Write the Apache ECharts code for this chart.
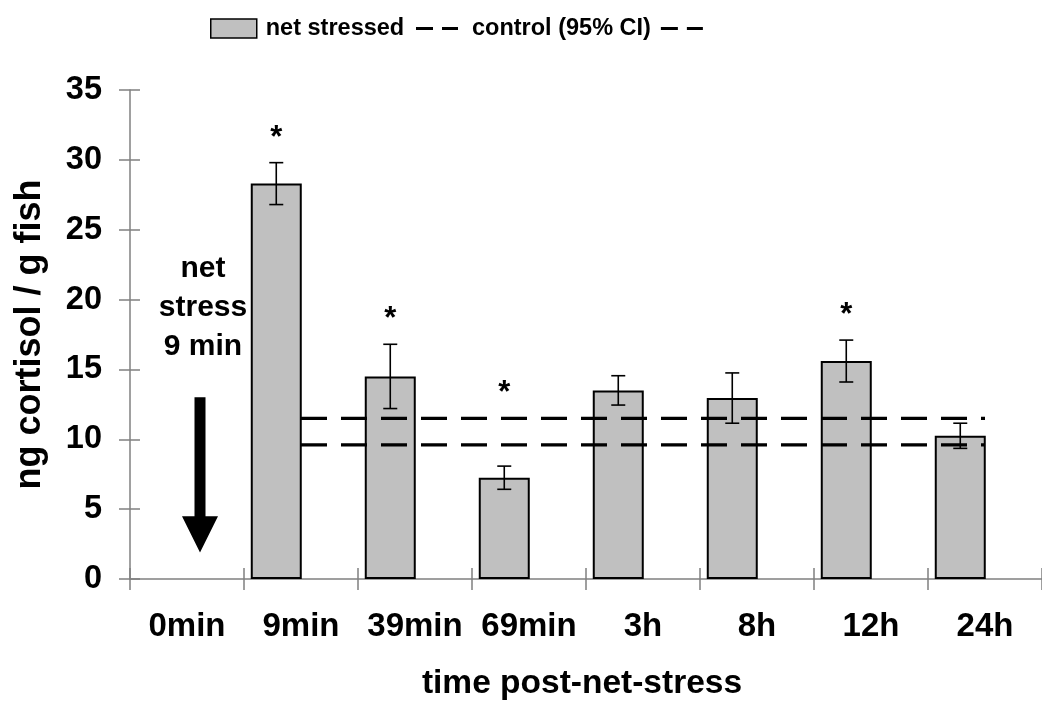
<!DOCTYPE html>
<html>
<head>
<meta charset="utf-8">
<script src="https://cdn.jsdelivr.net/npm/echarts@6/dist/echarts.min.js"></script>
<style>
  html, body { margin: 0; padding: 0; background: #fff; }
  #chart { width: 1042px; height: 706px; }
</style>
</head>
<body>
<div id="chart"></div>
<script>
// Sampling times after the net stress
const categories = ['0min', '9min', '39min', '69min', '3h', '8h', '12h', '24h'];
// Mean whole-body cortisol (ng / g fish) of net-stressed fish
const meanCortisol = [null, 28.3, 14.5, 7.25, 13.5, 12.95, 15.6, 10.25];
// Standard error of each mean
const semCortisol = [null, 1.5, 2.3, 0.83, 1.05, 1.8, 1.5, 0.9];
// Control 95% confidence interval (lower, upper)
const controlLower = 9.6;
const controlUpper = 11.5;
// Times that differ significantly from control
const significant = ['9min', '39min', '69min', '12h'];
// Value axis
const yMin = 0, yMax = 35, yInterval = 5;

const FONT = "'Liberation Sans', Arial, sans-serif";
const BAR_W = 51;
const BAR_GAP = -0.03;
const BAR_SHIFT = BAR_W * (1 + BAR_GAP) / 2;   // bar centre sits left of the category centre

const barData = meanCortisol.map(v => (v == null ? '-' : v));
const errData = [];
meanCortisol.forEach((m, i) => { if (m != null) errData.push([i, m, semCortisol[i]]); });
const starData = significant.map(c => {
  const i = categories.indexOf(c);
  return [i, Math.max(meanCortisol[i] + semCortisol[i], controlUpper) + 1.75];
});
const upperLine = categories.map((c, i) => (i === 0 ? '-' : controlUpper));
const lowerLine = categories.map((c, i) => (i === 0 ? '-' : controlLower));

const chart = echarts.init(document.getElementById('chart'), null, { renderer: 'canvas' });

const axisGray = '#808080';
const legendText = { fontFamily: FONT, fontWeight: 'bold', fontSize: 23.5, color: '#000' };

const option = {
  animation: false,
  backgroundColor: '#fff',
  grid: { left: 130, top: 90, width: 922, height: 490, containLabel: false },
  legend: [
    {
      data: ['net stressed'],
      left: 210, top: 14,
      padding: 0,
      itemWidth: 46, itemHeight: 19,
      icon: 'rect',
      selectedMode: false,
      itemStyle: { borderColor: '#000', borderWidth: 1.5 },
      textStyle: Object.assign({ padding: [0, 0, 0, 4], lineHeight: 29 }, legendText)
    },
    {
      data: ['control (95% CI)', ' '],
      left: 416, top: 14,
      padding: 0,
      itemWidth: 42, itemHeight: 3,
      itemGap: 10,
      icon: 'path://M0,0h17v3h-17zM26,0h16v3h-16z',
      selectedMode: false,
      itemStyle: { color: '#000', borderWidth: 0 },
      textStyle: Object.assign({ padding: [0, 0, 0, 9], lineHeight: 29 }, legendText)
    }
  ],
  xAxis: [
    {
      type: 'category',
      data: categories,
      boundaryGap: true,
      name: 'time post-net-stress',
      nameLocation: 'middle',
      nameGap: 88,
      nameTextStyle: { fontFamily: FONT, fontWeight: 'bold', fontSize: 33.5, color: '#000', padding: [0, 8, 0, 0] },
      axisLine: { lineStyle: { color: axisGray, width: 1.5 } },
      axisTick: { show: true, inside: false, length: 11, lineStyle: { color: axisGray, width: 1.5 } },
      axisLabel: { interval: 0, margin: 31, fontFamily: FONT, fontWeight: 'bold', fontSize: 33, color: '#000' },
      splitLine: { show: false }
    },
    {
      type: 'category',
      data: categories,
      boundaryGap: true,
      position: 'bottom',
      axisLine: { show: false },
      axisTick: { show: true, inside: true, length: 11, lineStyle: { color: axisGray, width: 1.5 } },
      axisLabel: { show: false },
      splitLine: { show: false }
    }
  ],
  yAxis: [
    {
      type: 'value',
      min: yMin, max: yMax, interval: yInterval,
      name: 'ng cortisol / g fish',
      nameLocation: 'middle',
      nameGap: 82,
      nameTextStyle: { fontFamily: FONT, fontWeight: 'bold', fontSize: 36, color: '#000' },
      axisLine: { show: true, lineStyle: { color: axisGray, width: 1.5 } },
      axisTick: { show: true, inside: false, length: 11, lineStyle: { color: axisGray, width: 1.5 } },
      axisLabel: { margin: 28, fontFamily: FONT, fontWeight: 'bold', fontSize: 32.5, color: '#000' },
      splitLine: { show: false }
    },
    {
      type: 'value',
      min: yMin, max: yMax, interval: yInterval,
      position: 'left',
      axisLine: { show: false },
      axisTick: { show: true, inside: true, length: 10, lineStyle: { color: axisGray, width: 1.5 } },
      axisLabel: { show: false },
      splitLine: { show: false }
    }
  ],
  series: [
    {
      name: 'net stressed',
      type: 'bar',
      data: barData,
      barWidth: BAR_W,
      barGap: (BAR_GAP * 100) + '%',
      itemStyle: { color: '#c0c0c0', borderColor: '#000', borderWidth: 2 },
      z: 2
    },
    {
      name: 'spacer',
      type: 'bar',
      data: categories.map(() => '-'),
      barWidth: BAR_W,
      barGap: (BAR_GAP * 100) + '%'
    },
    {
      name: 'sem',
      type: 'custom',
      data: errData,
      encode: { x: 0, y: 1 },
      z: 4,
      renderItem: function (params, api) {
        const i = api.value(0), m = api.value(1), e = api.value(2);
        const top = api.coord([i, m + e]);
        const bot = api.coord([i, m - e]);
        const x = top[0] - BAR_SHIFT;
        const cap = 7;
        const st = { stroke: '#000', lineWidth: 1.6, fill: null };
        return {
          type: 'group',
          children: [
            { type: 'line', shape: { x1: x, y1: top[1], x2: x, y2: bot[1] }, style: st },
            { type: 'line', shape: { x1: x - cap, y1: top[1], x2: x + cap, y2: top[1] }, style: st },
            { type: 'line', shape: { x1: x - cap, y1: bot[1], x2: x + cap, y2: bot[1] }, style: st }
          ]
        };
      }
    },
    {
      name: 'control (95% CI)',
      type: 'line',
      data: upperLine,
      symbol: 'none',
      itemStyle: { color: '#000' },
      lineStyle: { color: '#000', width: 3.4, type: [26, 14] },
      z: 5
    },
    {
      name: ' ',
      type: 'line',
      data: lowerLine,
      symbol: 'none',
      itemStyle: { color: '#000' },
      lineStyle: { color: '#000', width: 3.4, type: [26, 14] },
      z: 5
    },
    {
      name: 'significance',
      type: 'custom',
      data: starData,
      encode: { x: 0, y: 1 },
      z: 6,
      renderItem: function (params, api) {
        const p = api.coord([api.value(0), api.value(1)]);
        return {
          type: 'text',
          x: p[0] - BAR_SHIFT,
          y: p[1],
          style: {
            text: '*',
            fontFamily: FONT,
            fontWeight: 'bold',
            fontSize: 31,
            fill: '#000',
            align: 'center',
            verticalAlign: 'middle'
          }
        };
      }
    }
  ]
};

chart.setOption(option);

// Arrow and label marking the 9-minute net stress, placed in data space at the first time point
const ax = chart.convertToPixel({ xAxisIndex: 0, yAxisIndex: 0 }, [0, 13.0]);
const headBase = chart.convertToPixel({ xAxisIndex: 0, yAxisIndex: 0 }, [0, 4.5]);
const tip = chart.convertToPixel({ xAxisIndex: 0, yAxisIndex: 0 }, [0, 1.9]);
const labelPos = chart.convertToPixel({ xAxisIndex: 0, yAxisIndex: 0 }, [0, 19.4]);
const cx = ax[0] + 13;
chart.setOption({
  graphic: [
    {
      type: 'polygon',
      shape: {
        points: [
          [cx - 5.5, ax[1]], [cx + 5.5, ax[1]], [cx + 5.5, headBase[1]], [cx + 18, headBase[1]],
          [cx, tip[1]], [cx - 18, headBase[1]], [cx - 5.5, headBase[1]]
        ]
      },
      style: { fill: '#000' },
      z: 10
    },
    {
      type: 'text',
      x: labelPos[0] + 16,
      y: labelPos[1],
      style: {
        text: 'net\nstress\n9 min',
        fontFamily: FONT,
        fontWeight: 'bold',
        fontSize: 30,
        lineHeight: 39,
        fill: '#000',
        align: 'center',
        verticalAlign: 'middle'
      },
      z: 10
    }
  ]
});
</script>
</body>
</html>
